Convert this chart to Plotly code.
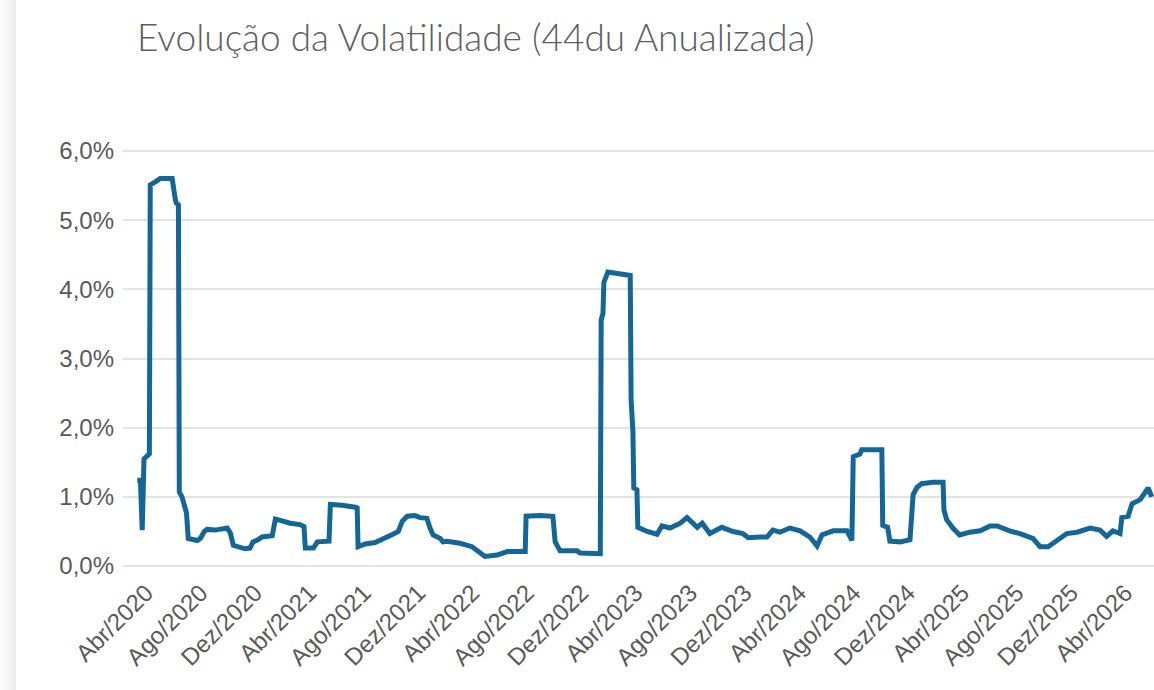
import plotly.graph_objects as go

# ---- data (volatility, % annualised, 44 business days) ----
dates = [
    "2020-03-12", "2020-03-19", "2020-03-23", "2020-03-27", "2020-04-01", "2020-04-08",
    "2020-04-10", "2020-04-17", "2020-04-23", "2020-05-02", "2020-05-29", "2020-06-05",
    "2020-06-07", "2020-06-12", "2020-06-14", "2020-06-20", "2020-06-25", "2020-06-30",
    "2020-07-04", "2020-07-20", "2020-07-24", "2020-07-31", "2020-08-09", "2020-08-15",
    "2020-09-02", "2020-09-29", "2020-10-06", "2020-10-13", "2020-10-28", "2020-11-08",
    "2020-11-19", "2020-11-26", "2020-12-07", "2020-12-16", "2021-01-08", "2021-01-15",
    "2021-01-26", "2021-02-17", "2021-03-11", "2021-03-20", "2021-03-23", "2021-04-10",
    "2021-04-19", "2021-05-15", "2021-05-18", "2021-06-13", "2021-07-13", "2021-07-17",
    "2021-07-19", "2021-08-04", "2021-08-26", "2021-09-18", "2021-10-05", "2021-10-17",
    "2021-10-26", "2021-11-06", "2021-11-23", "2021-12-05", "2021-12-20", "2021-12-27",
    "2022-01-03", "2022-01-19", "2022-01-25", "2022-02-03", "2022-03-04", "2022-03-31",
    "2022-04-18", "2022-04-29", "2022-05-26", "2022-06-18", "2022-07-28", "2022-07-30",
    "2022-08-31", "2022-09-28", "2022-10-03", "2022-10-07", "2022-10-14", "2022-11-21",
    "2022-11-28", "2023-01-12", "2023-01-14", "2023-01-18", "2023-01-20", "2023-01-29",
    "2023-02-25", "2023-03-20", "2023-03-22", "2023-03-26", "2023-03-28", "2023-04-04",
    "2023-04-06", "2023-04-27", "2023-05-19", "2023-05-30", "2023-06-17", "2023-07-10",
    "2023-07-25", "2023-08-17", "2023-08-28", "2023-09-14", "2023-10-11", "2023-11-05",
    "2023-11-27", "2023-12-09", "2024-01-04", "2024-01-20", "2024-02-02", "2024-02-18",
    "2024-03-11", "2024-04-03", "2024-04-25", "2024-05-11", "2024-05-22", "2024-06-16",
    "2024-07-17", "2024-07-28", "2024-07-31", "2024-08-15", "2024-08-19", "2024-10-03",
    "2024-10-05", "2024-10-16", "2024-10-21", "2024-11-13", "2024-12-05", "2024-12-12",
    "2024-12-21", "2024-12-31", "2025-01-25", "2025-02-17", "2025-02-19", "2025-02-25",
    "2025-03-11", "2025-03-26", "2025-04-18", "2025-05-11", "2025-06-02", "2025-06-18",
    "2025-07-16", "2025-08-08", "2025-09-06", "2025-09-22", "2025-10-10", "2025-10-29",
    "2025-11-21", "2025-12-14", "2026-01-12", "2026-02-03", "2026-02-18", "2026-03-04",
    "2026-03-20", "2026-03-24", "2026-04-07", "2026-04-16", "2026-05-04", "2026-05-22",
    "2026-05-30",
]
vol_pct = [
    1.24, 1.24, 0.52, 1.55, 1.58, 1.62,
    5.51, 5.53, 5.56, 5.60, 5.60, 5.30,
    5.25, 5.22, 1.07, 1.00, 0.85, 0.77,
    0.40, 0.38, 0.37, 0.40, 0.50, 0.53,
    0.52, 0.55, 0.48, 0.30, 0.27, 0.25,
    0.26, 0.35, 0.38, 0.42, 0.44, 0.68,
    0.66, 0.62, 0.60, 0.57, 0.26, 0.26,
    0.35, 0.36, 0.89, 0.88, 0.85, 0.84,
    0.28, 0.32, 0.34, 0.40, 0.46, 0.50,
    0.65, 0.72, 0.73, 0.70, 0.69, 0.55,
    0.45, 0.40, 0.35, 0.36, 0.33, 0.28,
    0.19, 0.14, 0.16, 0.21, 0.21, 0.72,
    0.73, 0.72, 0.35, 0.30, 0.22, 0.22,
    0.19, 0.18, 3.56, 3.65, 4.10, 4.25,
    4.23, 4.20, 2.40, 1.95, 1.13, 1.10,
    0.56, 0.50, 0.46, 0.58, 0.55, 0.62,
    0.70, 0.56, 0.62, 0.47, 0.56, 0.50,
    0.47, 0.41, 0.42, 0.42, 0.52, 0.49,
    0.55, 0.51, 0.42, 0.29, 0.45, 0.51,
    0.51, 0.37, 1.58, 1.62, 1.68, 1.68,
    0.59, 0.56, 0.36, 0.35, 0.38, 1.03,
    1.14, 1.19, 1.21, 1.21, 0.81, 0.67,
    0.55, 0.45, 0.49, 0.51, 0.58, 0.58,
    0.51, 0.47, 0.40, 0.28, 0.28, 0.37,
    0.47, 0.49, 0.55, 0.52, 0.43, 0.51,
    0.47, 0.70, 0.72, 0.90, 0.96, 1.13,
    1.00,
]

tick_dates = [
    "2020-04-01", "2020-08-01", "2020-12-01", "2021-04-01", "2021-08-01", "2021-12-01",
    "2022-04-01", "2022-08-01", "2022-12-01", "2023-04-01", "2023-08-01", "2023-12-01",
    "2024-04-01", "2024-08-01", "2024-12-01", "2025-04-01", "2025-08-01", "2025-12-01",
    "2026-04-01",
]
tick_labels = [
    "Abr/2020", "Ago/2020", "Dez/2020", "Abr/2021", "Ago/2021", "Dez/2021",
    "Abr/2022", "Ago/2022", "Dez/2022", "Abr/2023", "Ago/2023", "Dez/2023",
    "Abr/2024", "Ago/2024", "Dez/2024", "Abr/2025", "Ago/2025", "Dez/2025",
    "Abr/2026",
]
y_ticks = [0, 1, 2, 3, 4, 5, 6]
y_tick_labels = ["0,0%", "1,0%", "2,0%", "3,0%", "4,0%", "5,0%", "6,0%"]

TITLE = "Evolução da Volatilidade (44du Anualizada)"

fig = go.Figure()
fig.add_trace(go.Scatter(
    x=dates, y=vol_pct, mode="lines",
    line=dict(color="#136696", width=5),
    hoverinfo="skip", showlegend=False,
))

# subtle card shadow on the left edge
shadow_cols = ["#fbfbfb", "#f7f7f7", "#f3f3f3", "#eeeeee"]
for i, c in enumerate(shadow_cols):
    fig.add_shape(type="rect", xref="paper", yref="paper",
                  x0=(i * 4 - 123) / 1031, x1=((i + 1) * 4 - 123) / 1031,
                  y0=-0.3, y1=1.4, line_width=0, fillcolor=c, layer="below")

fig.update_layout(
    width=1154, height=690,
    paper_bgcolor="white", plot_bgcolor="white",
    margin=dict(l=123, r=0, t=144, b=117),
    title=dict(text=TITLE, x=137 / 1154, xanchor="left", xref="container",
               y=1 - 38 / 690, yanchor="middle", yref="container",
               font=dict(family="Lato", size=37, color="#5e5e5e", weight=300)),
    font=dict(family="Liberation Sans, Arial", color="#595959"),
    hovermode=False,
)
fig.update_xaxes(
    type="date", range=["2020-02-09", "2026-06-04"],
    tickvals=tick_dates, ticktext=tick_labels, tickangle=-45,
    tickfont=dict(size=24, color="#595959"),
    showgrid=False, zeroline=False, showline=False, ticks="",
)
fig.update_yaxes(
    range=[-0.1, 6.1], tickvals=y_ticks, ticktext=y_tick_labels,
    tickfont=dict(size=24, color="#595959"),
    showgrid=True, gridcolor="#e3e3e3", gridwidth=1.5,
    zeroline=False, showline=False, ticks="", ticklabelstandoff=8,
)

fig.write_html("out.html", config={"displayModeBar": False},
               post_script="document.body.style.margin='0';")
